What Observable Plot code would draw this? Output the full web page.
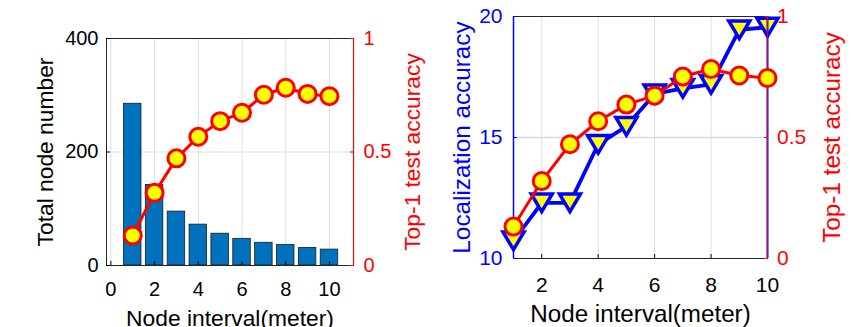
<!DOCTYPE html>
<html><head><meta charset="utf-8">
<script src="https://cdn.jsdelivr.net/npm/d3@7"></script>
<script src="https://cdn.jsdelivr.net/npm/@observablehq/plot@0.6"></script>
<style>
html,body{margin:0;padding:0;background:#fff;}
#root{position:relative;width:853px;height:327px;overflow:hidden;}
.layer{position:absolute;top:0;}
.layer svg{display:block;max-width:none;}
</style></head><body><div id="root"></div>
<script>
// ---- data ----
const nodeInterval = [1, 2, 3, 4, 5, 6, 7, 8, 9, 10];
const totalNodes = [285, 142, 95, 72, 56, 47, 40, 36, 31, 28];
const top1Accuracy = [0.132, 0.32, 0.472, 0.567, 0.636, 0.673, 0.752, 0.783, 0.756, 0.746];
const localizationAccuracy = [10.73, 12.3, 12.3, 14.72, 15.46, 16.8, 17.03, 17.2, 19.45, 19.56];

const leftXTicks = [0, 2, 4, 6, 8, 10];
const rightXTicks = [2, 4, 6, 8, 10];
const nodeTicks = [0, 200, 400];
const accTicks = [0, 0.5, 1];
const locTicks = [10, 15, 20];

const xLabel = "Node interval(meter)";
const nodeLabel = "Total node number";
const accLabel = "Top-1 test accuracy";
const locLabel = "Localization accuracy";

// ---- options ----
const FONT = '"Liberation Sans", Arial, Helvetica, sans-serif';
const leftXDomain = [-0.2, 11.1];
const rightXDomain = [1, 10];
const rows = nodeInterval.map((x, i) => ({x, nodes: totalNodes[i], acc: top1Accuracy[i], loc: localizationAccuracy[i]}));
const fmt = d => `${d}`;

const triangleDown = {
  draw(ctx, size) {
    const a = Math.sqrt(size / Math.PI);
    const h = a * 0.84;
    ctx.moveTo(-a, -h);
    ctx.lineTo(a, -h);
    ctx.lineTo(0, h);
    ctx.closePath();
  }
};

const root = document.getElementById("root");
function addLayer(svg, left) {
  const d = document.createElement("div");
  d.className = "layer";
  d.style.left = left + "px";
  d.appendChild(svg);
  root.appendChild(d);
}

const L = {width: 430, height: 327, marginTop: 38, marginRight: 77, marginBottom: 62, marginLeft: 106};
const R = {width: 423, height: 327, marginTop: 16, marginRight: 86, marginBottom: 69, marginLeft: 83};
const style = {background: "transparent", fontFamily: FONT, overflow: "visible"};
const vTitle = {text: d => d, rotate: -90, textAnchor: "middle", lineAnchor: "middle"};
const hTitle = {text: d => d, textAnchor: "middle", lineAnchor: "middle"};

// Left chart, left axis (bars)
addLayer(Plot.plot({
  ...L, style,
  x: {domain: leftXDomain},
  y: {domain: [0, 400]},
  marks: [
    Plot.gridX(leftXTicks, {stroke: "#dfdfdf", strokeOpacity: 1}),
    Plot.gridY([200], {stroke: "#dfdfdf", strokeOpacity: 1}),
    Plot.rectY(rows, {x1: d => d.x - 0.4, x2: d => d.x + 0.4, y1: 0, y2: "nodes", fill: "#0072BD", stroke: "#1a1a1a", strokeWidth: 0.8}),
    Plot.frame({stroke: "#262626"}),
    Plot.axisX(leftXTicks, {tickSize: -4, tickPadding: 20, fontSize: 20, color: "#000", label: null, tickFormat: fmt}),
    Plot.axisY(nodeTicks, {tickSize: -4, tickPadding: 12, fontSize: 20, color: "#000", label: null, tickFormat: fmt}),
    Plot.text([nodeLabel], {...vTitle, frameAnchor: "left", dx: -61, fontSize: 22.8, fill: "#000"}),
    Plot.text([xLabel], {...hTitle, frameAnchor: "bottom", dy: 53.7, fontSize: 22.8, fill: "#000"})
  ]
}), 0);

// Left chart, right axis (accuracy)
addLayer(Plot.plot({
  ...L, style,
  x: {domain: leftXDomain, axis: null},
  y: {domain: [0, 1]},
  marks: [
    Plot.ruleX([leftXDomain[1]], {stroke: "#b22222", strokeWidth: 1.3}),
    Plot.line(rows, {x: "x", y: "acc", stroke: "#ff0000", strokeWidth: 3}),
    Plot.dot(rows, {x: "x", y: "acc", r: 8.5, fill: "#ffff00", stroke: "#ff0000", strokeWidth: 3}),
    Plot.axisY(accTicks, {anchor: "right", tickSize: -4, tickPadding: 14, fontSize: 20, color: "#ff0000", label: null, tickFormat: fmt}),
    Plot.text([accLabel], {...vTitle, frameAnchor: "right", dx: 59.5, fontSize: 22.8, fill: "#ff0000"})
  ]
}), 0);

// Right chart, left axis (localization)
addLayer(Plot.plot({
  ...R, style,
  x: {domain: rightXDomain},
  y: {domain: [10, 20]},
  marks: [
    Plot.gridX(rightXTicks, {stroke: "#dfdfdf", strokeOpacity: 1}),
    Plot.gridY([15], {stroke: "#d4d4ff", strokeOpacity: 1, strokeWidth: 1.3}),
    Plot.frame({stroke: "#262626"}),
    Plot.ruleX([rightXDomain[0]], {stroke: "#0000ff", strokeWidth: 1.5}),
    Plot.line(rows, {x: "x", y: "loc", stroke: "#0000ff", strokeWidth: 3.8}),
    Plot.dot(rows, {x: "x", y: "loc", r: 10.5, symbol: triangleDown, fill: "#ffff00", stroke: "#0000ff", strokeWidth: 3.5, strokeLinejoin: "miter"}),
    Plot.axisX(rightXTicks, {tickSize: -4, tickPadding: 23, fontSize: 21, color: "#000", label: null, tickFormat: fmt}),
    Plot.axisY(locTicks, {tickSize: -4, tickPadding: 15, fontSize: 21, color: "#0000ff", label: null, tickFormat: fmt}),
    Plot.text([locLabel], {...vTitle, frameAnchor: "left", dx: -51.3, fontSize: 24.3, fill: "#0000ff"}),
    Plot.text([xLabel], {...hTitle, frameAnchor: "bottom", dy: 56, fontSize: 24.2, fill: "#000"})
  ]
}), 430);

// Right chart, right axis (accuracy)
addLayer(Plot.plot({
  ...R, style,
  x: {domain: rightXDomain, axis: null},
  y: {domain: [0, 1]},
  marks: [
    Plot.ruleX([rightXDomain[1]], {stroke: "#0000ff", strokeWidth: 2}),
    Plot.ruleX([rightXDomain[1]], {stroke: "#ff0000", strokeWidth: 0.8}),
    Plot.line(rows, {x: "x", y: "acc", stroke: "#ff0000", strokeWidth: 3}),
    Plot.dot(rows, {x: "x", y: "acc", r: 8.5, fill: "#ffff00", stroke: "#ff0000", strokeWidth: 3}),
    Plot.axisY(accTicks, {anchor: "right", tickSize: -4, tickPadding: 13.5, fontSize: 21, color: "#ff0000", label: null, tickFormat: fmt}),
    Plot.text([accLabel], {...vTitle, frameAnchor: "right", dx: 64.7, fontSize: 24.3, fill: "#ff0000"})
  ]
}), 430);
</script></body></html>
